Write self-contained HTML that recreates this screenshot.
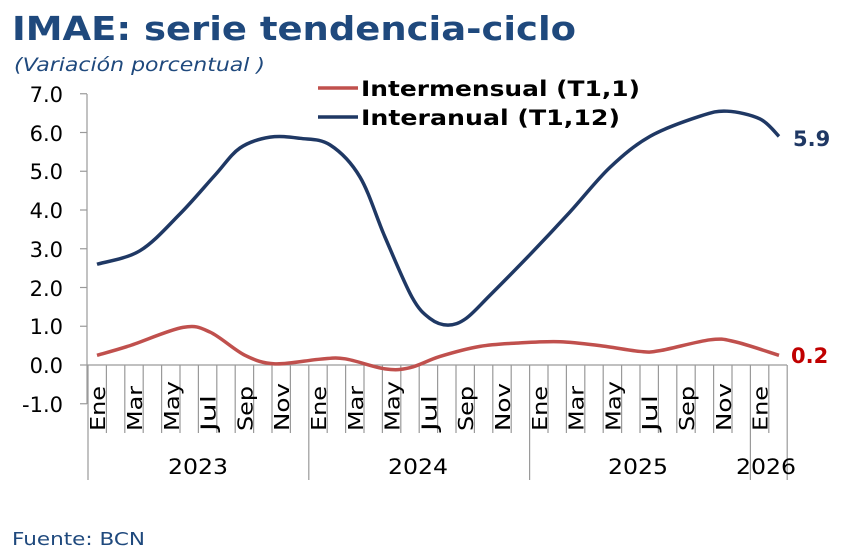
<!DOCTYPE html>
<html><head><meta charset="utf-8"><style>
html,body{margin:0;padding:0;background:#fff;width:841px;height:557px;overflow:hidden}
text{font-family:"DejaVu Sans","Liberation Sans",sans-serif}
</style></head><body>
<svg id="s" width="841" height="557" xmlns="http://www.w3.org/2000/svg">
<text x="12" y="40" font-size="33" font-weight="bold" fill="#1f497d" textLength="564" lengthAdjust="spacingAndGlyphs">IMAE: serie tendencia-ciclo</text>
<text x="14" y="71" font-size="19" font-style="italic" fill="#1f497d" textLength="251" lengthAdjust="spacingAndGlyphs">(Variación porcentual )</text>
<g font-size="21" fill="#000" text-anchor="end">
<text x="63" y="102">7.0</text><text x="63" y="141">6.0</text><text x="63" y="179">5.0</text><text x="63" y="218">4.0</text><text x="63" y="257">3.0</text><text x="63" y="296">2.0</text><text x="63" y="334">1.0</text><text x="63" y="373">0.0</text><text x="63" y="412">-1.0</text>
</g>
<g id="ax" stroke="#9a9a9a" stroke-width="1.2" fill="none"></g>
<g id="xl" font-size="20" fill="#000"></g>
<g font-size="21" fill="#000" text-anchor="middle">
<text x="198" y="474" textLength="60" lengthAdjust="spacingAndGlyphs">2023</text><text x="418" y="474" textLength="60" lengthAdjust="spacingAndGlyphs">2024</text><text x="638" y="474" textLength="60" lengthAdjust="spacingAndGlyphs">2025</text><text x="766" y="474" textLength="60" lengthAdjust="spacingAndGlyphs">2026</text>
</g>
<path id="blue" fill="none" stroke="#1f3864" stroke-width="3.5"/>
<path id="red" fill="none" stroke="#c0504d" stroke-width="3.5"/>
<line x1="318" y1="88" x2="358" y2="88" stroke="#c0504d" stroke-width="3.5"/>
<line x1="318" y1="117" x2="358" y2="117" stroke="#1f3864" stroke-width="3.5"/>
<text x="361" y="96" font-size="21" font-weight="bold" fill="#000" textLength="279" lengthAdjust="spacingAndGlyphs">Intermensual (T1,1)</text>
<text x="361" y="125" font-size="21" font-weight="bold" fill="#000" textLength="259" lengthAdjust="spacingAndGlyphs">Interanual (T1,12)</text>
<text x="793" y="146" font-size="21" font-weight="bold" fill="#1f3864">5.9</text>
<text x="791" y="363" font-size="21" font-weight="bold" fill="#c00000">0.2</text>
<text x="12" y="545" font-size="18" fill="#1f497d" textLength="133" lengthAdjust="spacingAndGlyphs">Fuente: BCN</text>
</svg>
<script>
var NS="http://www.w3.org/2000/svg";
function Y(v){return 365-v*38.75;}
var ax=document.getElementById("ax"),xl=document.getElementById("xl");
function ln(x1,y1,x2,y2){var l=document.createElementNS(NS,"line");l.setAttribute("x1",x1);l.setAttribute("y1",y1);l.setAttribute("x2",x2);l.setAttribute("y2",y2);ax.appendChild(l);}
ln(87,94,87,404);
for(var v=-1;v<=7;v++){ln(80,Y(v),87,Y(v));}
ln(87,365,787,365);
var w=18.4;
for(var i=0;i<=38;i++){var x=88+i*w;var big=(i%12==0)||i==38;ln(x,365,x,big?480:433);}
var m=["Ene","Mar","May","Jul","Sep","Nov"],L=[45,45,50,36,45,48];
for(var i=0;i<38;i+=2){var x=88+i*w+w/2+8;var t=document.createElementNS(NS,"text");var k=(i%12)/2;t.setAttribute("transform","translate("+x+",431) rotate(-90)");t.setAttribute("textLength",L[k]);t.setAttribute("lengthAdjust","spacingAndGlyphs");t.textContent=m[k];xl.appendChild(t);}
function path(pts){var d="M"+pts[0][0]+","+pts[0][1];for(var i=0;i<pts.length-1;i++){var p0=pts[Math.max(0,i-1)],p1=pts[i],p2=pts[i+1],p3=pts[Math.min(pts.length-1,i+2)];var c1x=p1[0]+(p2[0]-p0[0])/6,c1y=p1[1]+(p2[1]-p0[1])/6,c2x=p2[0]-(p3[0]-p1[0])/6,c2y=p2[1]-(p3[1]-p1[1])/6;d+=" C"+c1x+","+c1y+" "+c2x+","+c2y+" "+p2[0]+","+p2[1];}return d;}
var B=[[97,2.6],[140,2.95],[180,3.9],[215,4.9],[240,5.6],[270,5.88],[300,5.85],[330,5.68],[360,4.85],[385,3.3],[412,1.75],[430,1.2],[448,1.03],[466,1.2],[490,1.8],[530,2.85],[570,3.95],[610,5.1],[650,5.9],[700,6.42],[727,6.55],[760,6.35],[779,5.9]];
var R=[[97,0.25],[130,0.5],[183,0.97],[210,0.85],[245,0.25],[275,0.03],[320,0.15],[345,0.16],[385,-0.1],[410,-0.07],[440,0.22],[480,0.48],[520,0.57],[560,0.6],[600,0.5],[640,0.35],[660,0.37],[710,0.65],[735,0.6],[779,0.25]];
document.getElementById("blue").setAttribute("d",path(B.map(function(p){return[p[0],Y(p[1])];})));
document.getElementById("red").setAttribute("d",path(R.map(function(p){return[p[0],Y(p[1])];})));
</script>
</body></html>
